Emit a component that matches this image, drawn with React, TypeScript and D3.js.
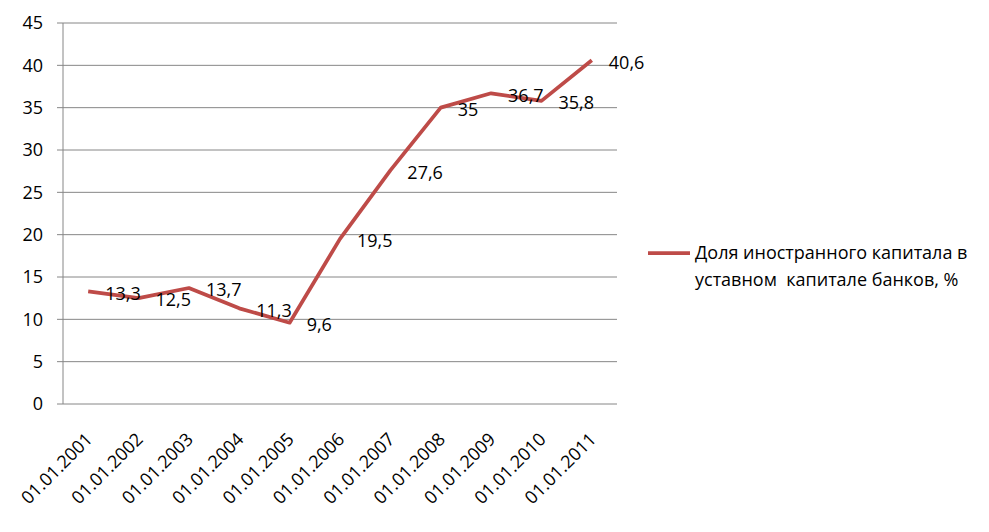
import React, { useEffect, useRef } from "react";
import * as d3 from "d3";

// data
const categories = [
  "01.01.2001", "01.01.2002", "01.01.2003", "01.01.2004", "01.01.2005", "01.01.2006",
  "01.01.2007", "01.01.2008", "01.01.2009", "01.01.2010", "01.01.2011",
];
const shareValues = [13.3, 12.5, 13.7, 11.3, 9.6, 19.5, 27.6, 35, 36.7, 35.8, 40.6];
const yTicks = [0, 5, 10, 15, 20, 25, 30, 35, 40, 45];
const legendLines = ["Доля иностранного капитала в", "уставном  капитале банков, %"];

const W = 989;
const H = 532;
const FONT = "'Open Sans', sans-serif";
const FS = "18px";
const LINE_COLOR = "#BE4B48";
const AXIS_COLOR = "#868686";

const App = () => {
  const svgRef = useRef(null);

  useEffect(() => {
    const svg = d3.select(svgRef.current);
    svg.selectAll("*").remove();

    const left = 63,
      right = 617,
      top = 23,
      bottom = 404;

    const x = d3.scaleBand().domain(categories).range([left, right]);
    const y = d3.scaleLinear().domain([0, 45]).range([bottom, top]);
    const cx = (d: string) => (x(d) as number) + x.bandwidth() / 2;

    // gridlines + y ticks
    svg
      .append("g")
      .selectAll("line")
      .data(yTicks)
      .join("line")
      .attr("x1", left - 6)
      .attr("x2", right)
      .attr("y1", (d) => y(d))
      .attr("y2", (d) => y(d))
      .attr("stroke", AXIS_COLOR)
      .attr("stroke-width", 1);

    svg
      .append("line")
      .attr("x1", left)
      .attr("x2", left)
      .attr("y1", top)
      .attr("y2", bottom)
      .attr("stroke", AXIS_COLOR);

    svg
      .append("g")
      .selectAll("text")
      .data(yTicks)
      .join("text")
      .attr("x", left - 20)
      .attr("y", (d) => y(d))
      .attr("dy", "0.35em")
      .attr("text-anchor", "end")
      .style("font-family", FONT)
      .style("font-size", FS)
      .style("fill", "#000")
      .text((d) => d);

    // x labels
    svg
      .append("g")
      .selectAll("text")
      .data(categories)
      .join("text")
      .attr("transform", (d) => `translate(${cx(d) + 1},${bottom + 32}) rotate(-45)`)
      .attr("dy", "0.35em")
      .attr("text-anchor", "end")
      .style("font-family", FONT)
      .style("font-size", FS)
      .style("fill", "#000")
      .text((d) => d);

    // line
    const line = d3
      .line<number>()
      .x((d, i) => cx(categories[i]))
      .y((d) => y(d));

    svg
      .append("path")
      .datum(shareValues)
      .attr("d", line)
      .attr("fill", "none")
      .attr("stroke", LINE_COLOR)
      .attr("stroke-width", 3.75)
      .attr("stroke-linejoin", "round");

    // data labels
    svg
      .append("g")
      .selectAll("text")
      .data(shareValues)
      .join("text")
      .attr("x", (d, i) => cx(categories[i]) + 17)
      .attr("y", (d) => y(d) + 2)
      .attr("dy", "0.35em")
      .style("font-family", FONT)
      .style("font-size", FS)
      .style("fill", "#000")
      .text((d) => String(d).replace(".", ","));

    // legend
    const lg = svg.append("g");
    lg.append("line")
      .attr("x1", 648)
      .attr("x2", 690)
      .attr("y1", 253)
      .attr("y2", 253)
      .attr("stroke", LINE_COLOR)
      .attr("stroke-width", 3.75);
    lg.selectAll("text")
      .data(legendLines)
      .join("text")
      .attr("x", 695)
      .attr("y", (d, i) => 253 + i * 27)
      .attr("dy", "0.35em")
      .style("font-family", FONT)
      .style("font-size", FS)
      .style("white-space", "pre")
      .attr("xml:space", "preserve")
      .style("fill", "#000")
      .text((d) => d);
  }, []);

  return (
    <svg
      ref={svgRef}
      width={W}
      height={H}
      style={{ position: "absolute", left: 0, top: 0, background: "#fff" }}
    ></svg>
  );
};

export default App;
